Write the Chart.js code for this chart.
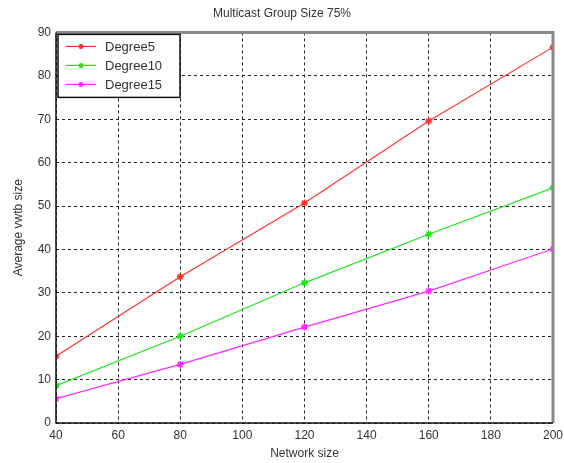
<!DOCTYPE html>
<html>
<head>
<meta charset="utf-8">
<script src="https://cdn.jsdelivr.net/npm/chart.js@4/dist/chart.umd.min.js"></script>
<style>
  html, body { margin: 0; padding: 0; background: #fff; }
  #wrap { width: 564px; height: 463px; }
</style>
</head>
<body>
<div id="wrap"><canvas id="chart" width="564" height="463"></canvas></div>
<script>
// network sizes on the x axis
var networkSize = [40, 80, 120, 160, 200];

// average vwtb size per degree
var degree5 = [15.4, 33.7, 50.7, 69.6, 86.6];
var degree10 = [8.6, 20.0, 32.3, 43.5, 54.2];
var degree15 = [5.6, 13.5, 22.1, 30.4, 40.1];

var seriesNames = ['Degree5', 'Degree10', 'Degree15'];
var seriesColors = ['rgb(255,50,50)', 'rgb(30,230,30)', 'rgb(255,40,255)'];

var xTicks = [40, 60, 80, 100, 120, 140, 160, 180, 200];
var yTicks = [0, 10, 20, 30, 40, 50, 60, 70, 80, 90];

var FONT = '"Liberation Sans", Arial, sans-serif';

function toPoints(vals) {
    return vals.map(function (v, i) { return { x: networkSize[i], y: v }; });
}

// frame (gray top/right like matlab) + boxed legend inside the plot
var framePlugin = {
    id: 'frame',
    afterDatasetsDraw: function (chart) {
        var ctx = chart.ctx, a = chart.chartArea;
        ctx.save();
        ctx.strokeStyle = '#8a8a8a';
        ctx.lineWidth = 3;
        ctx.beginPath();
        ctx.moveTo(a.left, a.top);
        ctx.lineTo(a.right, a.top);
        ctx.lineTo(a.right, a.bottom);
        ctx.stroke();
        ctx.strokeStyle = '#111';
        ctx.lineWidth = 1.5;
        ctx.beginPath();
        ctx.moveTo(a.left, a.top);
        ctx.lineTo(a.left, a.bottom);
        ctx.lineTo(a.right, a.bottom);
        ctx.stroke();

        // legend
        var lx = a.left + 2, ly = a.top + 2, lw = 122, lh = 63;
        ctx.fillStyle = '#fff';
        ctx.fillRect(lx, ly, lw, lh);
        ctx.strokeStyle = '#111';
        ctx.lineWidth = 1.5;
        ctx.strokeRect(lx, ly, lw, lh);
        ctx.font = '13px ' + FONT;
        ctx.textBaseline = 'middle';
        chart.data.datasets.forEach(function (ds, i) {
            var yy = ly + 12 + i * 19;
            ctx.strokeStyle = ds.borderColor;
            ctx.lineWidth = 1.2;
            ctx.beginPath();
            ctx.moveTo(lx + 8, yy);
            ctx.lineTo(lx + 38, yy);
            ctx.stroke();
            ctx.fillStyle = ds.borderColor;
            ctx.beginPath();
            ctx.arc(lx + 23, yy, 2.5, 0, Math.PI * 2);
            ctx.fill();
            ctx.fillStyle = '#333';
            ctx.fillText(ds.label, lx + 47, yy + 1);
        });
        ctx.restore();
    }
};

new Chart(document.getElementById('chart'), {
    type: 'line',
    data: {
        datasets: [0, 1, 2].map(function (i) {
            return {
                label: seriesNames[i],
                data: toPoints([degree5, degree10, degree15][i]),
                borderColor: seriesColors[i],
                backgroundColor: seriesColors[i],
                borderWidth: 1.2,
                pointStyle: 'star',
                pointRadius: 3.5,
                pointBorderWidth: 1.5,
                fill: false,
                tension: 0
            };
        })
    },
    options: {
        responsive: false,
        animation: false,
        layout: { padding: { left: 0, right: 0, top: 0, bottom: 0 } },
        plugins: {
            legend: { display: false },
            tooltip: { enabled: false },
            title: {
                display: true,
                text: 'Multicast Group Size 75%',
                color: '#333',
                font: { family: FONT, size: 12, weight: 'normal' },
                padding: { top: 6, bottom: 12 }
            }
        },
        scales: {
            x: {
                type: 'linear',
                min: 40,
                max: 200,
                afterBuildTicks: function (s) { s.ticks = xTicks.map(function (v) { return { value: v }; }); },
                afterFit: function (s) { s.height = 40; s.paddingRight = 11; },
                grid: { color: '#222', lineWidth: 1, drawTicks: false },
                border: { display: false, dash: [3, 3] },
                ticks: { color: '#333', padding: 5, font: { family: FONT, size: 12 }, maxRotation: 0 },
                title: {
                    display: true,
                    text: 'Network size',
                    color: '#333',
                    font: { family: FONT, size: 12 },
                    padding: { top: 0, bottom: 2 }
                }
            },
            y: {
                min: 0,
                max: 90,
                afterBuildTicks: function (s) { s.ticks = yTicks.map(function (v) { return { value: v }; }); },
                afterFit: function (s) { s.width = 56; },
                grid: { color: '#222', lineWidth: 1, drawTicks: false },
                border: { display: false, dash: [3, 3] },
                ticks: { color: '#333', padding: 5, font: { family: FONT, size: 12 } },
                title: {
                    display: true,
                    text: 'Average vwtb size',
                    color: '#333',
                    font: { family: FONT, size: 12 },
                    padding: { top: 11, bottom: 0 }
                }
            }
        }
    },
    plugins: [framePlugin]
});
</script>
</body>
</html>
